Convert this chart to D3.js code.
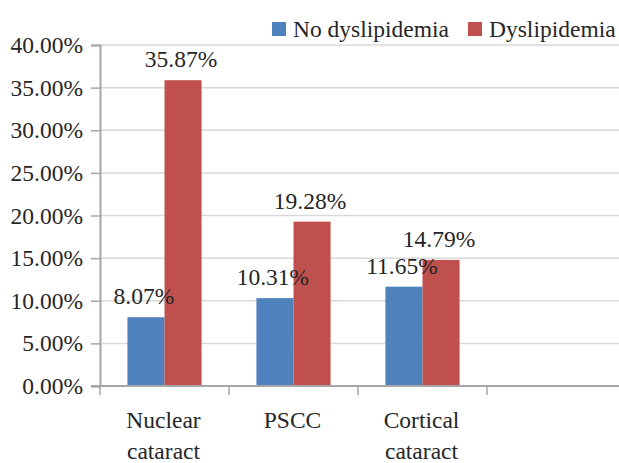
<!DOCTYPE html>
<html>
<head>
<meta charset="utf-8">
<script src="https://cdn.jsdelivr.net/npm/d3@7"></script>
<style>
  body { margin: 0; background: #fff; }
  svg text { font-family: "Liberation Serif", "DejaVu Serif", serif; fill: #262626; }
</style>
</head>
<body>
<div id="chart"></div>
<script>
// data
const categories = ["Nuclear cataract", "PSCC", "Cortical cataract", ""];
const seriesNames = ["No dyslipidemia", "Dyslipidemia"];
const noDyslipidemia = [8.07, 10.31, 11.65];
const dyslipidemia = [35.87, 19.28, 14.79];
const yTicks = [0, 5, 10, 15, 20, 25, 30, 35, 40];

const colors = ["#4F81BD", "#C0504D"];
const width = 619, height = 463;
const margin = { top: 45, right: 3, bottom: 77, left: 100 };
const fontsize = 23.5;
const serif = "'Liberation Serif', 'DejaVu Serif', serif";

const svg = d3.select("#chart")
    .append("svg")
    .attr("width", width)
    .attr("height", height)
    .attr("font-family", serif);

const x = d3.scaleBand()
    .domain(categories)
    .range([margin.left, width - margin.right]);

const x1 = d3.scaleBand()
    .domain(seriesNames)
    .range([0, x.bandwidth()])
    .paddingOuter(0.74);

const y = d3.scaleLinear()
    .domain([0, 40])
    .range([height - margin.bottom, margin.top]);

/* grid */
svg.append("g")
    .attr("class", "grid")
    .selectAll("line")
    .data(yTicks.filter(d => d > 0))
    .enter().append("line")
    .attr("x1", margin.left)
    .attr("x2", width)
    .attr("y1", d => y(d))
    .attr("y2", d => y(d))
    .attr("stroke", "#d9d9d9")
    .attr("stroke-width", 1.5);

/* y axis */
const axisY = d3.axisLeft(y)
    .tickValues(yTicks)
    .tickSize(9)
    .tickPadding(8)
    .tickFormat(d => d.toFixed(2) + "%");

const gy = svg.append("g")
    .attr("class", "axis_y")
    .attr("transform", `translate(${margin.left}, 0)`)
    .call(axisY)
    .attr("font-family", serif)
    .attr("font-size", fontsize);
gy.select(".domain").attr("stroke", "#a6a6a6").attr("stroke-width", 2);
gy.selectAll(".tick line").attr("stroke", "#a6a6a6").attr("stroke-width", 1.5);
gy.selectAll(".tick text").attr("fill", "#262626");

/* bars */
const rows = categories.slice(0, noDyslipidemia.length).map((c, i) => ({
    category: c,
    values: [noDyslipidemia[i], dyslipidemia[i]]
}));

const groups = svg.append("g")
    .attr("class", "content")
    .selectAll("g")
    .data(rows)
    .enter().append("g")
    .attr("transform", d => `translate(${x(d.category)}, 0)`);

groups.selectAll("rect")
    .data(d => d.values.map((v, j) => ({ key: seriesNames[j], value: v, j: j })))
    .enter().append("rect")
    .attr("x", d => x1(d.key))
    .attr("width", x1.bandwidth())
    .attr("y", d => y(d.value))
    .attr("height", d => y(0) - y(d.value))
    .attr("fill", d => colors[d.j]);

groups.selectAll("text")
    .data(d => d.values.map((v, j) => ({ key: seriesNames[j], value: v })))
    .enter().append("text")
    .attr("x", d => x1(d.key) + x1.bandwidth() / 2 - 2)
    .attr("y", d => y(d.value) - 13)
    .attr("text-anchor", "middle")
    .attr("font-size", fontsize)
    .text(d => d.value.toFixed(2) + "%");

/* x axis */
const axis = svg.append("g").attr("class", "axis_x");
axis.append("line")
    .attr("x1", margin.left - 9)
    .attr("x2", width)
    .attr("y1", y(0))
    .attr("y2", y(0))
    .attr("stroke", "#a6a6a6")
    .attr("stroke-width", 2);

const tickPos = categories.map(c => x(c));
axis.selectAll(".xtick")
    .data(tickPos)
    .enter().append("line")
    .attr("class", "xtick")
    .attr("x1", d => d)
    .attr("x2", d => d)
    .attr("y1", y(0))
    .attr("y2", y(0) + 9)
    .attr("stroke", "#a6a6a6")
    .attr("stroke-width", 1.5);

const labels = axis.selectAll(".xlabel")
    .data(categories.filter(c => c !== ""))
    .enter().append("text")
    .attr("class", "xlabel")
    .attr("text-anchor", "middle")
    .attr("font-size", fontsize)
    .attr("transform", d => `translate(${x(d) + x.bandwidth() / 2 - 1}, ${y(0) + 42})`);

labels.selectAll("tspan")
    .data(d => d.split(" "))
    .enter().append("tspan")
    .attr("x", 0)
    .attr("dy", (d, i) => i === 0 ? 0 : 31)
    .text(d => d);

/* legend */
const legendX = [272, 468];
const legend = svg.append("g").attr("class", "legend");
seriesNames.forEach((name, i) => {
    legend.append("rect")
        .attr("x", legendX[i])
        .attr("y", 22)
        .attr("width", 14)
        .attr("height", 14)
        .attr("fill", colors[i]);
    legend.append("text")
        .attr("x", legendX[i] + 21)
        .attr("y", 37)
        .attr("font-size", fontsize)
        .text(name);
});
</script>
</body>
</html>
